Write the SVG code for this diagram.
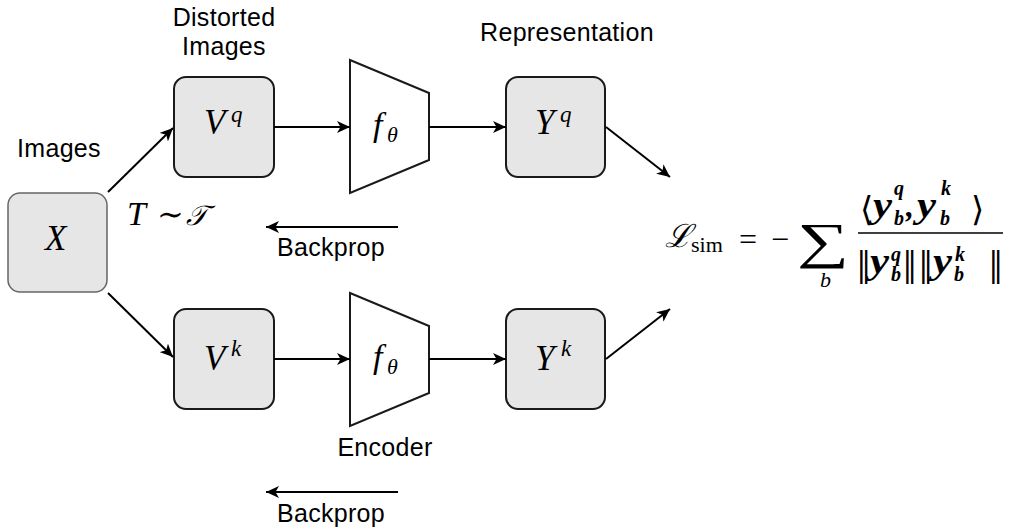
<svg xmlns="http://www.w3.org/2000/svg" width="1010" height="530" viewBox="0 0 1010 530">
<style>
.lbl{font-family:"Liberation Sans",Arial,sans-serif;font-size:25px;letter-spacing:0.3px;fill:#000;text-anchor:middle}
.m{font-family:"Liberation Serif","DejaVu Serif",serif;font-style:italic;fill:#000}
.mr{font-family:"Liberation Serif","DejaVu Serif",serif;fill:#000}
.mb{font-family:"Liberation Serif","DejaVu Serif",serif;font-style:italic;font-weight:bold;fill:#000}
.nrm{font-family:"Liberation Serif","DejaVu Serif",serif;fill:#000;font-size:48px}
.box{fill:#e6e6e6;stroke:#1a1a1a;stroke-width:2}
.trap{fill:#fff;stroke:#1a1a1a;stroke-width:2}
.c{stroke:#000;stroke-width:2;fill:none;marker-end:url(#arr)}
</style>
<defs>
<marker id="arr" markerUnits="userSpaceOnUse" markerWidth="14" markerHeight="12" refX="13" refY="6" orient="auto">
<path d="M0,0 L13,6 L0,12 L3.5,6 z" fill="#000"/>
</marker>
</defs>
<rect width="1010" height="530" fill="#fff"/>

<g id="labels">
<text class="lbl" x="59" y="157">Images</text>
<text class="lbl" x="224" y="26">Distorted</text>
<text class="lbl" x="224" y="55">Images</text>
<text class="lbl" x="567" y="41">Representation</text>
<text class="lbl" x="331" y="256">Backprop</text>
<text class="lbl" x="385" y="456">Encoder</text>
<text class="lbl" x="331" y="522">Backprop</text>
</g>

<g id="node-X">
<rect x="8" y="193" width="99" height="99" rx="12" fill="#e6e6e6" stroke="#666" stroke-width="1.5"/>
<text class="m" x="45" y="250" font-size="35">X</text>
</g>

<g id="node-Vq">
<rect class="box" x="174" y="77" width="100" height="100" rx="12"/>
<text class="m" x="204" y="134" font-size="35">V</text>
<text class="m" x="231" y="122" font-size="23">q</text>
</g>

<g id="node-Vk">
<rect class="box" x="174" y="309" width="100" height="100" rx="12"/>
<text class="m" x="204" y="370" font-size="35">V</text>
<text class="m" x="231" y="356" font-size="23">k</text>
</g>

<g id="node-fq">
<polygon class="trap" points="350,60 429,93 429,160 350,193"/>
<text class="m" x="373" y="136" font-size="34">f</text>
<text class="m" x="387" y="142" font-size="22">θ</text>
</g>

<g id="node-fk">
<polygon class="trap" points="350,293 429,326 429,393 350,426"/>
<text class="m" x="373" y="368" font-size="34">f</text>
<text class="m" x="387" y="374" font-size="22">θ</text>
</g>

<g id="node-Yq">
<rect class="box" x="506" y="77" width="99" height="100" rx="12"/>
<text class="m" x="535" y="134" font-size="35">Y</text>
<text class="m" x="560" y="122" font-size="23">q</text>
</g>

<g id="node-Yk">
<rect class="box" x="506" y="309" width="99" height="100" rx="12"/>
<text class="m" x="535" y="370" font-size="35">Y</text>
<text class="m" x="561" y="356" font-size="23">k</text>
</g>

<g id="transform">
<text class="m" x="127" y="225" font-size="34">T</text>
<text class="mr" x="157" y="225" font-size="32">∼</text>
<text class="m" x="186" y="225" font-size="28">𝒯</text>
</g>

<g id="loss">
<text class="m" x="665" y="247" font-size="32">ℒ</text>
<text class="mr" x="691" y="252" font-size="22">sim</text>
<text class="mr" x="739" y="250" font-size="32">=</text>
<text class="mr" x="771" y="250" font-size="32">−</text>
<text class="mr" x="797" y="258" font-size="50" textLength="52" lengthAdjust="spacingAndGlyphs">∑</text>
<text class="m" x="820" y="287" font-size="22">b</text>
<line x1="858" y1="233" x2="1003" y2="233" stroke="#000" stroke-width="1.5"/>
<text class="mr" x="860" y="221" font-size="34">⟨</text>
<text class="mb" x="873" y="217" font-size="36" textLength="19" lengthAdjust="spacingAndGlyphs">y</text>
<text class="mb" x="894" y="195" font-size="20">q</text>
<text class="mb" x="894" y="225" font-size="20">b</text>
<text class="mb" x="906" y="217" font-size="32">,</text>
<text class="mb" x="917" y="217" font-size="36" textLength="19" lengthAdjust="spacingAndGlyphs">y</text>
<text class="mb" x="941" y="195" font-size="20">k</text>
<text class="mb" x="940" y="225" font-size="20">b</text>
<text class="mr" x="971" y="221" font-size="34">⟩</text>
<text class="nrm" x="857" y="284">‖</text>
<text class="mb" x="870" y="273" font-size="36" textLength="19" lengthAdjust="spacingAndGlyphs">y</text>
<text class="mb" x="891" y="261" font-size="20">q</text>
<text class="mb" x="891" y="281" font-size="20">b</text>
<text class="nrm" x="903" y="284">‖</text>
<text class="nrm" x="919" y="284">‖</text>
<text class="mb" x="933" y="273" font-size="36" textLength="19" lengthAdjust="spacingAndGlyphs">y</text>
<text class="mb" x="955" y="261" font-size="20">k</text>
<text class="mb" x="954" y="281" font-size="20">b</text>
<text class="nrm" x="989" y="284">‖</text>
</g>

<g id="connectors">
<line class="c" x1="108" y1="192" x2="173" y2="128"/>
<line class="c" x1="108" y1="293" x2="173" y2="357"/>
<line class="c" x1="274" y1="127" x2="350" y2="127"/>
<line class="c" x1="429" y1="127" x2="506" y2="127"/>
<line class="c" x1="606" y1="127" x2="670" y2="177"/>
<line class="c" x1="274" y1="359" x2="350" y2="359"/>
<line class="c" x1="429" y1="359" x2="506" y2="359"/>
<line class="c" x1="606" y1="359" x2="670" y2="309"/>
<line class="c" x1="398" y1="227" x2="266" y2="227"/>
<line class="c" x1="398" y1="492" x2="266" y2="492"/>
</g>
</svg>
